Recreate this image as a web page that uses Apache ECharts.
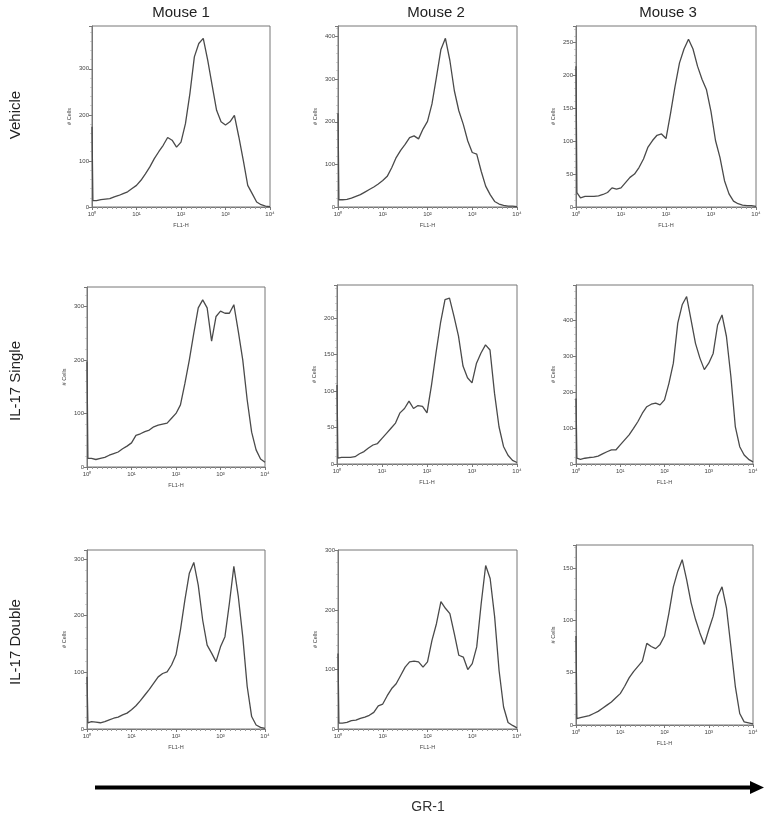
<!DOCTYPE html>
<html>
<head>
<meta charset="utf-8">
<script src="https://cdn.jsdelivr.net/npm/echarts@6/dist/echarts.min.js"></script>
<style>
html,body{margin:0;padding:0;background:#fff;}
#c{width:779px;height:820px;}
</style>
</head>
<body>
<div id="c"></div>
<script>
// log10(FL1-H) positions (first two points: channel 0 spike, then the curve start)
var xs = [0, 0.02, 0.1, 0.2, 0.3, 0.4, 0.5, 0.6, 0.7, 0.8, 0.9, 1.0, 1.1, 1.2, 1.3, 1.4, 1.5, 1.6, 1.7, 1.8, 1.9, 2.0, 2.1, 2.2, 2.3, 2.4, 2.5, 2.6, 2.7, 2.8, 2.9, 3.0, 3.1, 3.2, 3.3, 3.4, 3.5, 3.6, 3.7, 3.8, 3.9, 4.0];
var xTickLabels = ['10\u2070', '10\u00b9', '10\u00b2', '10\u00b3', '10\u2074'];
var columns = ['Mouse 1', 'Mouse 2', 'Mouse 3'];
var rows = ['Vehicle', 'IL-17 Single', 'IL-17 Double'];

// # Cells per panel (row by row)
var vehicleM1 = [174, 14, 14, 16, 17, 18, 22, 25, 29, 33, 40, 47, 58, 72, 87, 105, 120, 134, 151, 145, 130, 141, 181, 246, 326, 355, 366, 319, 264, 210, 185, 178, 185, 199, 152, 101, 47, 29, 11, 5, 2, 1];
var vehicleM2 = [220, 17, 17, 18, 21, 25, 29, 35, 41, 47, 54, 62, 72, 92, 116, 133, 147, 163, 167, 160, 183, 201, 242, 305, 370, 396, 344, 273, 226, 194, 155, 128, 124, 84, 49, 29, 13, 7, 4, 2, 2, 1];
var vehicleM3 = [214, 22, 14, 16, 16, 16, 17, 19, 22, 29, 27, 29, 37, 45, 50, 60, 73, 91, 101, 109, 111, 104, 142, 183, 219, 240, 255, 240, 214, 194, 178, 145, 101, 75, 40, 20, 9, 5, 3, 2, 2, 1];
var singleM1 = [197, 16, 16, 14, 16, 18, 22, 25, 28, 34, 39, 45, 59, 62, 66, 69, 75, 78, 80, 82, 91, 100, 116, 156, 200, 250, 297, 312, 297, 235, 281, 291, 287, 287, 303, 253, 200, 125, 65, 32, 15, 9];
var singleM2 = [108, 8, 9, 9, 9, 10, 14, 17, 22, 26, 28, 35, 42, 49, 56, 70, 76, 86, 76, 80, 79, 70, 108, 152, 193, 225, 227, 202, 175, 134, 118, 111, 138, 152, 163, 156, 97, 51, 24, 12, 5, 2];
var singleM3 = [182, 16, 13, 16, 18, 19, 22, 28, 34, 39, 39, 53, 67, 81, 99, 118, 141, 159, 166, 169, 164, 178, 224, 280, 391, 442, 465, 400, 335, 294, 262, 280, 307, 386, 414, 354, 243, 104, 48, 25, 13, 6];
var doubleM1 = [92, 11, 13, 12, 11, 13, 16, 19, 21, 25, 28, 34, 41, 50, 60, 70, 81, 92, 98, 101, 113, 131, 175, 228, 275, 294, 254, 192, 148, 134, 119, 145, 163, 222, 287, 234, 163, 75, 22, 7, 3, 1];
var doubleM2 = [127, 10, 10, 11, 14, 15, 18, 20, 23, 28, 39, 42, 56, 68, 76, 90, 104, 113, 114, 113, 104, 113, 149, 177, 214, 203, 194, 160, 124, 121, 100, 110, 138, 211, 275, 253, 189, 98, 37, 11, 6, 2];
var doubleM3 = [85, 6, 7, 8, 9, 11, 13, 16, 19, 22, 26, 30, 37, 45, 51, 56, 61, 78, 75, 73, 77, 85, 107, 132, 147, 158, 139, 117, 101, 88, 77, 91, 104, 123, 132, 112, 75, 37, 11, 3, 2, 1];

var panelData = [vehicleM1, vehicleM2, vehicleM3, singleM1, singleM2, singleM3, doubleM1, doubleM2, doubleM3];
var yMax = [393, 425, 275, 336, 245, 497, 316, 301, 172];
var yStep = [100, 100, 50, 100, 50, 100, 100, 100, 50];

// panel boxes [left, top, width, height]
var boxes = [
  [92, 26, 178, 181], [338, 26, 179, 181], [576, 26, 180, 181],
  [87, 287, 178, 180], [337, 285, 180, 179], [576, 285, 177, 179],
  [87, 550, 178, 179], [338, 550, 179, 179], [576, 545, 177, 180]
];

var grids = [], xAxes = [], yAxes = [], series = [];
for (var i = 0; i < 9; i++) {
  var b = boxes[i];
  grids.push({left: b[0], top: b[1], width: b[2], height: b[3], show: true,
    borderColor: '#777', borderWidth: 1, backgroundColor: 'transparent', containLabel: false});
  xAxes.push({type: 'value', gridIndex: i, min: 0, max: 4, interval: 1,
    name: 'FL1-H', nameLocation: 'middle', nameGap: 15,
    nameTextStyle: {fontSize: 5.5, color: '#444', fontFamily: 'Liberation Sans'},
    axisLine: {show: true, lineStyle: {color: '#777', width: 1}},
    axisTick: {show: true, length: 3, lineStyle: {color: '#777'}},
    minorTick: {show: true, splitNumber: 9, length: 2, lineStyle: {color: '#999'}},
    splitLine: {show: false},
    axisLabel: {fontSize: 6, color: '#444', margin: 4, fontFamily: 'Liberation Sans',
      formatter: function (v) { return xTickLabels[Math.round(v)]; }}
  });
  yAxes.push({type: 'value', gridIndex: i, min: 0, max: yMax[i], interval: yStep[i],
    name: '# Cells', nameLocation: 'middle', nameGap: 20, nameRotate: 90,
    nameTextStyle: {fontSize: 5.5, color: '#444', fontFamily: 'Liberation Sans'},
    axisLine: {show: true, lineStyle: {color: '#777', width: 1}},
    axisTick: {show: true, length: 3, lineStyle: {color: '#777'}},
    minorTick: {show: true, splitNumber: 5, length: 1.5, lineStyle: {color: '#aaa'}},
    splitLine: {show: false},
    axisLabel: {fontSize: 6, color: '#444', margin: 3, showMaxLabel: false, fontFamily: 'Liberation Sans'}
  });
  var pts = [];
  for (var k = 0; k < xs.length; k++) pts.push([xs[k], panelData[i][k]]);
  series.push({type: 'line', xAxisIndex: i, yAxisIndex: i, data: pts, showSymbol: false,
    lineStyle: {color: '#4a4a4a', width: 1.3}, silent: true, animation: false});
}

var colX = [181, 436, 668];
var rowY = [115, 381, 642];
var graphics = [];
for (var c = 0; c < 3; c++) {
  graphics.push({type: 'text', x: colX[c], y: 13,
    style: {text: columns[c], fontSize: 15, fill: '#222', fontFamily: 'Liberation Sans',
      textAlign: 'center', textVerticalAlign: 'middle'}});
}
for (var r = 0; r < 3; r++) {
  graphics.push({type: 'text', x: 16, y: rowY[r], rotation: Math.PI / 2,
    style: {text: rows[r], fontSize: 15, fill: '#222', fontFamily: 'Liberation Sans',
      textAlign: 'center', textVerticalAlign: 'middle'}});
}
graphics.push({type: 'rect', shape: {x: 95, y: 785.5, width: 656, height: 4}, style: {fill: '#000'}});
graphics.push({type: 'polygon', shape: {points: [[750, 781], [764, 787.5], [750, 794]]}, style: {fill: '#000'}});
graphics.push({type: 'text', x: 428, y: 807,
  style: {text: 'GR-1', fontSize: 14, fill: '#333', fontFamily: 'Liberation Sans',
    textAlign: 'center', textVerticalAlign: 'middle'}});

var chart = echarts.init(document.getElementById('c'), null, {renderer: 'canvas'});
chart.setOption({
  animation: false,
  backgroundColor: '#fff',
  grid: grids,
  xAxis: xAxes,
  yAxis: yAxes,
  series: series,
  graphic: graphics
});
</script>
</body>
</html>
